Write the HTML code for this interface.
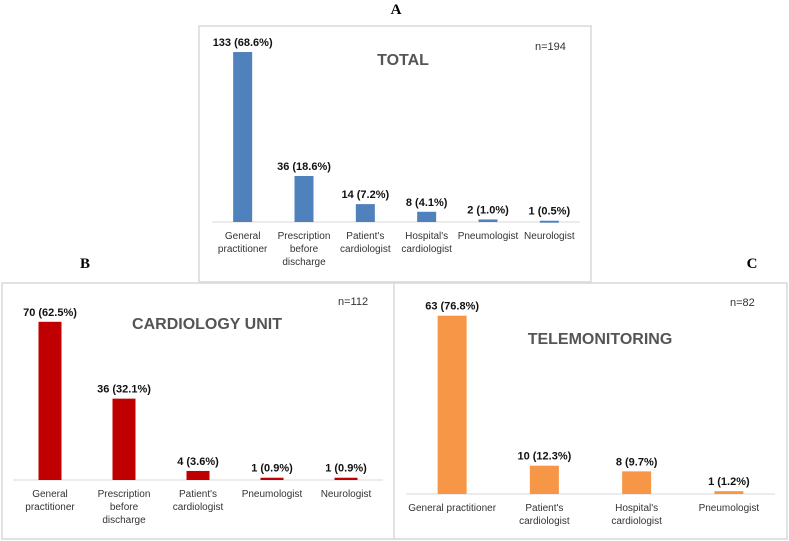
<!DOCTYPE html>
<html><head><meta charset="utf-8"><style>
html,body{margin:0;padding:0;background:#fff;}
svg{display:block;font-family:"Liberation Sans",sans-serif;}
.lbl{font-size:11px;fill:#111;font-weight:bold;text-anchor:middle;}
.cat{font-size:10px;fill:#333;text-anchor:middle;}
.ttl{font-size:16px;fill:#555;font-weight:bold;text-anchor:middle;}
.n{font-size:11px;fill:#333;}
.pl{font-family:"Liberation Serif",serif;font-size:15px;font-weight:bold;fill:#000;text-anchor:middle;}
</style></head><body>
<svg id="s" width="789" height="541" viewBox="0 0 789 541">
<text class="pl" x="396" y="14">A</text>
<text class="pl" x="85" y="268">B</text>
<text class="pl" x="752" y="268">C</text>
</svg>
<script>
const catsA=[["General","practitioner"],["Prescription","before","discharge"],["Patient's","cardiologist"],["Hospital's","cardiologist"],["Pneumologist"],["Neurologist"]];
const valsA=[133,36,14,8,2,1];
const labsA=["133 (68.6%)","36 (18.6%)","14 (7.2%)","8 (4.1%)","2 (1.0%)","1 (0.5%)"];
const catsB=[["General","practitioner"],["Prescription","before","discharge"],["Patient's","cardiologist"],["Pneumologist"],["Neurologist"]];
const valsB=[70,36,4,1,1];
const labsB=["70 (62.5%)","36 (32.1%)","4 (3.6%)","1 (0.9%)","1 (0.9%)"];
const catsC=[["General practitioner"],["Patient's","cardiologist"],["Hospital's","cardiologist"],["Pneumologist"]];
const valsC=[63,10,8,1];
const labsC=["63 (76.8%)","10 (12.3%)","8 (9.7%)","1 (1.2%)"];
const svg=document.getElementById('s');
const NS='http://www.w3.org/2000/svg';
function mk(t,a,p){const e=document.createElementNS(NS,t);for(const k in a)e.setAttribute(k,a[k]);(p||svg).appendChild(e);return e;}
function panel(o){
  const g=mk('g',{});
  
  
  const box=mk('rect',{x:o.bx,y:o.by,width:o.bw,height:o.bh,fill:'#fff',stroke:'#d9d9d9','stroke-width':1.5},g);
  
  
  const ax=mk('line',{x1:o.ax0,x2:o.ax1,y1:o.base,y2:o.base,stroke:'#d9d9d9','stroke-width':1},g);
  
  
  const n=o.cats.length;const step=(o.ax1-o.ax0)/n;
  const xc=i=>o.ax0+step*(i+0.5);
  const yv=v=>o.base-v*o.scale;
  o.vals.forEach((v,i)=>{
    const r=mk('rect',{x:xc(i)-o.w/2,y:yv(v),width:o.w,height:Math.max(o.base-yv(v),2),fill:o.color},g);
    
    
    const t=mk('text',{x:xc(i),y:yv(v)-6,class:'lbl'},g);t.textContent=o.labs[i];
    
    
    o.cats[i].forEach((l,j)=>{
      const c=mk('text',{x:xc(i),y:o.base+17+j*13,class:'cat'},g);c.textContent=l;
      
      
    });
  });
  const tt=mk('text',{x:o.tx,y:o.ty,class:'ttl'},g);tt.textContent=o.title;
  
  
  const nn=mk('text',{x:o.nx,y:o.ny,class:'n'},g);nn.textContent=o.n;
  
  
}
panel({name:'panel-total',bx:199,by:26,bw:392,bh:256,ax0:212,ax1:580,base:222,scale:1.278,w:19,color:'#4f81bd',cats:catsA,vals:valsA,labs:labsA,title:'TOTAL',tx:403,ty:65,n:'n=194',nx:535,ny:50});
panel({name:'panel-cardiology',bx:2,by:283,bw:396,bh:256,ax0:13,ax1:383,base:480,scale:2.26,w:23,color:'#c00000',cats:catsB,vals:valsB,labs:labsB,title:'CARDIOLOGY UNIT',tx:207,ty:329,n:'n=112',nx:338,ny:305});
panel({name:'panel-telemonitoring',bx:394,by:283,bw:393,bh:256,ax0:406,ax1:775,base:494,scale:2.83,w:29,color:'#f79646',cats:catsC,vals:valsC,labs:labsC,title:'TELEMONITORING',tx:600,ty:344,n:'n=82',nx:730,ny:306});
</script>
</body></html>
